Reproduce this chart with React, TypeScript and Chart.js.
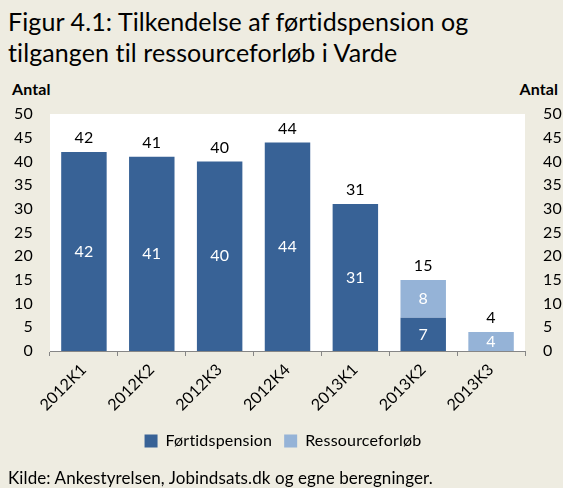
import React, { useEffect, useRef } from "react";
import { Chart, registerables } from "chart.js";

Chart.register(...registerables);

const categories = ["2012K1", "2012K2", "2012K3", "2012K4", "2013K1", "2013K2", "2013K3"];
const fortidspension: (number | null)[] = [42, 41, 40, 44, 31, 7, null];
const ressourceforlob: (number | null)[] = [null, null, null, null, null, 8, 4];
const yMin = 0;
const yMax = 50;
const yStep = 5;

const FONT = "Lato, 'Open Sans', sans-serif";
const BG = "#EEECE1";
const DARK = "#386296";
const LIGHT = "#95B3D7";

const labelPlugin = {
  id: "barLabels",
  afterDatasetsDraw(chart: any) {
    const ctx = chart.ctx;
    const yScale = chart.scales.y;
    ctx.save();
    ctx.font = `16px ${FONT}`;
    ctx.textAlign = "center";
    ctx.textBaseline = "middle";
    chart.data.datasets.forEach((ds: any, i: number) => {
      const meta = chart.getDatasetMeta(i);
      meta.data.forEach((bar: any, j: number) => {
        const v = ds.data[j];
        if (!v) return;
        ctx.fillStyle = "#FFFFFF";
        ctx.fillText(String(v), bar.x, (bar.y + bar.base) / 2);
      });
    });
    categories.forEach((_, j) => {
      const total = (fortidspension[j] || 0) + (ressourceforlob[j] || 0);
      const meta = chart.getDatasetMeta(0);
      const x = meta.data[j].x;
      const y = yScale.getPixelForValue(total) - 14;
      ctx.fillStyle = "#000000";
      ctx.fillText(String(total), x, y);
    });
    ctx.restore();
  },
};

export default function App() {
  const ref = useRef<HTMLCanvasElement>(null);
  useEffect(() => {
    if (!ref.current) return;
    const chart = new Chart(ref.current, {
      type: "bar",
      data: {
        labels: categories,
        datasets: [
          {
            label: "Førtidspension",
            data: fortidspension,
            backgroundColor: DARK,
            borderWidth: 0,
            categoryPercentage: 1,
            barPercentage: 0.67,
          },
          {
            label: "Ressourceforløb",
            data: ressourceforlob,
            backgroundColor: LIGHT,
            borderWidth: 0,
            categoryPercentage: 1,
            barPercentage: 0.67,
          },
        ],
      },
      options: {
        animation: false,
        responsive: false,
        maintainAspectRatio: false,
        layout: { padding: { top: 114, bottom: 29, left: 0, right: 0 } },
        plugins: {
          legend: {
            position: "bottom",
            labels: {
              font: { family: FONT, size: 16 },
              color: "#000",
              boxWidth: 13,
              boxHeight: 13,
              padding: 12,
            },
          },
          tooltip: { enabled: false },
        } as any,
        scales: {
          x: {
            stacked: true,
            offset: true,
            grid: {
              display: true,
              offset: true,
              drawOnChartArea: false,
              drawTicks: true,
              tickLength: 5,
              color: "#868686",
            },
            border: { display: true, color: "#868686" },
            ticks: {
              minRotation: 45,
              maxRotation: 45,
              color: "#000",
              font: { family: FONT, size: 16 },
              padding: 4,
            },
            afterFit(scale: any) {
              scale.height = 70;
            },
          },
          y: {
            stacked: true,
            position: "left",
            min: yMin,
            max: yMax,
            grid: { display: false, drawTicks: false },
            border: { display: false },
            ticks: {
              stepSize: yStep,
              color: "#000",
              font: { family: FONT, size: 16 },
              padding: 17,
            },
            afterFit(scale: any) {
              scale.width = 50;
            },
          },
          y2: {
            position: "right",
            min: yMin,
            max: yMax,
            grid: { display: false, drawTicks: false },
            border: { display: false },
            ticks: {
              stepSize: yStep,
              color: "#000",
              font: { family: FONT, size: 16 },
              padding: 18,
            },
            afterFit(scale: any) {
              scale.width = 38;
            },
          },
        },
      },
      plugins: [
        {
          id: "chartAreaBg",
          beforeDraw(chart: any) {
            const { ctx, chartArea } = chart;
            try {
              (ctx as any).letterSpacing = "0.2px";
            } catch (e) {}
            ctx.save();
            ctx.fillStyle = "#FFFFFF";
            ctx.fillRect(chartArea.left, chartArea.top, chartArea.right - chartArea.left, chartArea.bottom - chartArea.top);
            ctx.restore();
          },
        },
        labelPlugin,
      ],
    });
    return () => chart.destroy();
  }, []);

  const noLig: React.CSSProperties = { fontVariantLigatures: "none", letterSpacing: "0.1px" };

  return (
    <div style={{ position: "fixed", left: 0, top: 0, width: 563, height: 488, background: BG, overflow: "hidden", fontFamily: FONT, ...noLig }}>
      <div style={{ position: "absolute", left: 8, top: 6, fontSize: 25, lineHeight: "31px", color: "#000", whiteSpace: "nowrap" }}>
        Figur 4.1: Tilkendelse af førtidspension og
        <br />
        tilgangen til ressourceforløb i Varde
      </div>
      <div style={{ position: "absolute", left: 12, top: 79, fontSize: 16, fontWeight: 700, color: "#000" }}>Antal</div>
      <div style={{ position: "absolute", right: 5, top: 79, fontSize: 16, fontWeight: 700, color: "#000" }}>Antal</div>
      <canvas ref={ref} width={563} height={488} style={{ position: "absolute", left: 0, top: 0, display: "block" }} />
      <div style={{ position: "absolute", left: 8, top: 467, fontSize: 17, color: "#000", whiteSpace: "nowrap" }}>
        Kilde: Ankestyrelsen, Jobindsats.dk og egne beregninger.
      </div>
    </div>
  );
}
